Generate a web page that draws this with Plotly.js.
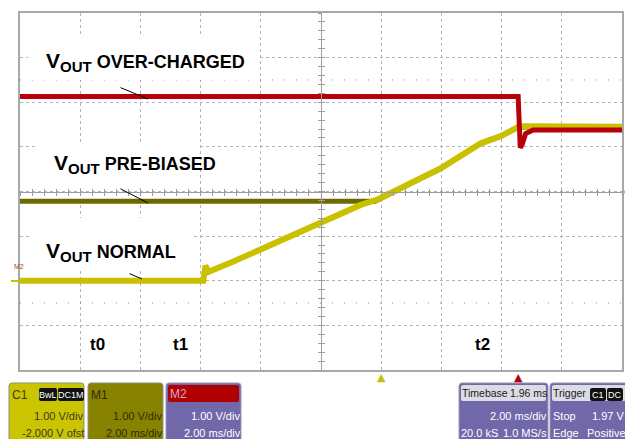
<!DOCTYPE html>
<html><head><meta charset="utf-8">
<script src="https://cdn.plot.ly/plotly-3.0.1.min.js"></script>
<style>html,body{margin:0;padding:0;background:#fff;overflow:hidden}#chart{width:625px;height:439px}</style>
</head><body><div id="chart"></div>
<script>
// ---- data read from the scope capture: time in ms (2 ms/div), voltage in V (1 V/div, -2 V offset) ----
const normalT  = [0, 6.09, 6.16, 6.26, 7.09, 7.99, 9.32, 9.98, 11.32, 11.88, 13.98, 15.31, 15.97, 16.54, 16.75, 20];
const normalV  = [0, 0, 0.34, 0.20, 0.43, 0.70, 1.10, 1.30, 1.70, 1.82, 2.52, 3.08, 3.24, 3.44, 3.46, 3.45];
const prebiasT = [0, 11.8, 13.98, 15.31, 15.97, 16.54, 20];
const prebiasV = [1.78, 1.78, 2.52, 3.08, 3.24, 3.44, 3.45];
const overT    = [0, 16.55, 16.62, 16.68, 16.8, 17.05, 20];
const overV    = [4.13, 4.13, 2.98, 3.05, 3.30, 3.38, 3.38];
const timeLabels = ['t0', 't1', 't2'];
const timeLabelT = [2.56, 5.32, 15.35];
const markerT = [12.0, 16.55];          // trigger / reference markers under the grid
const markerColors = ['#c9c100', '#b8000a'];

// ---- geometry helpers (pixel -> paper / data) ----
const L = 20, R = 622, T = 13, B = 370, W = R - L, H = B - T;
const P = px => (px - L) / W;
const Q = py => (B - py) / H;
const tx = px => P(px) * 20;
const vy = py => -2 + Q(py) * 8;

const C_YEL = '#c9c100', C_OLV = '#6e6a00', C_RED = '#b8000a';
const GRID = '#b4b4b4';

const traces = [
  {x: prebiasT, y: prebiasV, mode: 'lines', line: {color: C_OLV, width: 5}},
  {x: normalT, y: normalV, mode: 'lines', line: {color: C_YEL, width: 6}},
  {x: overT, y: overV, mode: 'lines', line: {color: C_RED, width: 5}},
  {x: [], y: [], xaxis: 'x2', yaxis: 'y'},
  {x: [], y: [], xaxis: 'x3', yaxis: 'y'},
  {x: [], y: [], xaxis: 'x', yaxis: 'y2'},
  {x: [], y: [], xaxis: 'x', yaxis: 'y3'}
];

const shapes = [];
// sparse dot rows
[4.5, -0.5].forEach(v => shapes.push({type: 'line', xref: 'x', yref: 'y', x0: 0, x1: 20, y0: v, y1: v,
  line: {color: '#8c8c8c', width: 1, dash: '1px,11px'}, layer: 'between'}));
// white label boxes (hide the grid behind the labels)
[[28, 36, 257, 80], [37, 144, 200, 188], [30, 218, 193, 270]].forEach(b => shapes.push({
  type: 'rect', xref: 'x', yref: 'y', x0: tx(b[0]), x1: tx(b[2]), y0: vy(b[1]), y1: vy(b[3]),
  fillcolor: '#ffffff', line: {width: 0}, layer: 'between'}));

function rpath(x0, y0, x1, y1, r) {
  const f = (x, y) => P(x).toFixed(5) + ',' + Q(y).toFixed(5);
  return 'M' + f(x0 + r, y0) + ' L' + f(x1 - r, y0) + ' Q' + f(x1, y0) + ' ' + f(x1, y0 + r) +
    ' L' + f(x1, y1) + ' L' + f(x0, y1) + ' L' + f(x0, y0 + r) + ' Q' + f(x0, y0) + ' ' + f(x0 + r, y0) + ' Z';
}
function rbox(x0, y0, x1, y1, r, fill, lc) {
  shapes.push({type: 'path', xref: 'paper', yref: 'paper', path: rpath(x0, y0, x1, y1, r),
    fillcolor: fill, line: {color: lc || fill, width: 1}});
}
function rboxFull(x0, y0, x1, y1, r, fill) {
  const f = (x, y) => P(x).toFixed(5) + ',' + Q(y).toFixed(5);
  const p = 'M' + f(x0 + r, y0) + ' L' + f(x1 - r, y0) + ' Q' + f(x1, y0) + ' ' + f(x1, y0 + r) +
    ' L' + f(x1, y1 - r) + ' Q' + f(x1, y1) + ' ' + f(x1 - r, y1) + ' L' + f(x0 + r, y1) + ' Q' + f(x0, y1) + ' ' + f(x0, y1 - r) +
    ' L' + f(x0, y0 + r) + ' Q' + f(x0, y0) + ' ' + f(x0 + r, y0) + ' Z';
  shapes.push({type: 'path', xref: 'paper', yref: 'paper', path: p, fillcolor: fill, line: {width: 0}});
}
const PURPLE = '#7168aa';
rbox(9, 383, 84, 445, 3, '#cbc400', '#8e8e80');
rbox(88, 383, 163, 445, 3, '#878300', '#8e8e80');
rbox(166, 383, 241, 445, 3, PURPLE, '#9a98b8');
rboxFull(168, 385, 239, 402, 2, '#b00000');
rbox(459, 383, 548, 445, 3, PURPLE, '#9a98b8');
rboxFull(461, 385, 546, 401, 2, '#dcdce4');
rbox(550, 383, 628, 445, 3, PURPLE, '#9a98b8');
rboxFull(552, 385, 626, 401, 2, '#dcdce4');
[[39, 57], [58, 84], [590, 606], [607, 623]].forEach(b => rboxFull(b[0], 388, b[1], 401, 2, '#111111'));
shapes.push({type: 'line', xref: 'paper', yref: 'paper', x0: P(11), x1: P(20), y0: Q(281), y1: Q(281),
  line: {color: C_YEL, width: 2}});

const annotations = [];
const LBL_FONT = {family: 'Liberation Sans, Arial, sans-serif', size: 18, color: '#000'};
function vout(txt) {
  return '<b><span style="font-size:21px">V</span><sub><span style="font-size:15px">OUT</span></sub> ' + txt + '</b>';
}
[[44, 62, 'OVER-CHARGED'], [52, 164, 'PRE-BIASED'], [44, 252, 'NORMAL']].forEach(a => annotations.push({
  xref: 'x', yref: 'y', x: tx(a[0]), y: vy(a[1]), text: vout(a[2]), showarrow: false,
  xanchor: 'left', yanchor: 'middle', font: LBL_FONT}));
[[148, 99, -29, -12], [148, 203, -29, -15], [142, 279, -14, -6]].forEach(a => annotations.push({
  xref: 'x', yref: 'y', x: tx(a[0]), y: vy(a[1]), ax: a[2], ay: a[3], text: ' ', showarrow: true,
  arrowhead: 0, arrowwidth: 1, arrowcolor: '#000', standoff: 0, startstandoff: 0, font: {size: 1}}));
timeLabels.forEach((s, i) => annotations.push({xref: 'x', yref: 'y', x: timeLabelT[i], y: vy(344),
  text: '<b>' + s + '</b>', showarrow: false, font: {family: 'Liberation Sans, Arial, sans-serif', size: 17, color: '#000'}}));
markerT.forEach((t, i) => annotations.push({xref: 'x', yref: 'paper', x: t, y: Q(369), yanchor: 'top',
  text: '▲', showarrow: false, font: {family: 'DejaVu Sans, sans-serif', size: 11, color: markerColors[i]}}));
annotations.push({xref: 'paper', yref: 'y', x: 1, y: 2, xanchor: 'left', xshift: -2, text: '◀', showarrow: false,
  font: {family: 'DejaVu Sans, sans-serif', size: 8, color: C_YEL}});
annotations.push({xref: 'paper', yref: 'paper', x: P(12), y: Q(272), text: 'M2', showarrow: false,
  font: {family: 'Liberation Sans, sans-serif', size: 7, color: '#b04010'}});

const PF = 'Liberation Sans, Arial, sans-serif';
function ptxt(px, py, s, anchor, color, size) {
  annotations.push({xref: 'paper', yref: 'paper', x: P(px), y: Q(py), text: s, showarrow: false,
    xanchor: anchor, yanchor: 'middle', borderpad: 0, font: {family: PF, size: size || 11, color: color}});
}
const DK = '#3a3a28', WH = '#ffffff';
ptxt(11, 395, 'C1', 'left', DK, 12);
ptxt(48, 395, 'BwL', 'center', WH, 9);
ptxt(71, 395, 'DC1M', 'center', WH, 9);
ptxt(84, 416, '1.00 V/div', 'right', DK);
ptxt(85, 433, '-2.000 V ofst', 'right', DK);
ptxt(90, 395, 'M1', 'left', '#2e2c00', 12);
ptxt(163, 416, '1.00 V/div', 'right', '#2e2c00');
ptxt(164, 433, '2.00 ms/div', 'right', '#2e2c00');
ptxt(169, 394, 'M2', 'left', '#d8a8d0', 12);
ptxt(241, 416, '1.00 V/div', 'right', WH);
ptxt(242, 433, '2.00 ms/div', 'right', WH);
ptxt(461, 393, 'Timebase', 'left', '#1a1a1a', 10.5);
ptxt(548, 393, '1.96 ms', 'right', '#1a1a1a', 10.5);
ptxt(548, 416, '2.00 ms/div', 'right', WH);
ptxt(460, 433, '20.0 kS', 'left', WH);
ptxt(548, 433, '1.0 MS/s', 'right', WH);
ptxt(552, 393, 'Trigger', 'left', '#1a1a1a', 10.5);
ptxt(598, 395, 'C1', 'center', WH, 9);
ptxt(615, 395, 'DC', 'center', WH, 9);
ptxt(552, 416, 'Stop', 'left', WH);
ptxt(625, 416, '1.97 V', 'right', WH);
ptxt(552, 433, 'Edge', 'left', WH);
ptxt(627, 433, 'Positive', 'right', WH);

const baseAx = {showgrid: false, zeroline: false, showticklabels: false, fixedrange: true};
const layout = {
  width: 625, height: 439, margin: {l: L, r: 625 - R, t: T, b: 439 - B},
  paper_bgcolor: '#fff', plot_bgcolor: '#fff', showlegend: false,
  xaxis: Object.assign({}, baseAx, {range: [0, 20], tick0: 0, dtick: 2, showgrid: true, griddash: 'dot',
    gridcolor: GRID, gridwidth: 1, showline: true, mirror: true, linecolor: '#a8a8a8', linewidth: 2, ticks: ''}),
  yaxis: Object.assign({}, baseAx, {range: [-2, 6], tick0: 0, dtick: 1, showgrid: true, griddash: 'dot',
    gridcolor: GRID, gridwidth: 1, showline: true, mirror: true, linecolor: '#a8a8a8', linewidth: 2, ticks: ''}),
  xaxis2: Object.assign({}, baseAx, {overlaying: 'x', anchor: 'free', position: 0.5, range: [0, 20],
    showline: true, linecolor: '#9c9c9c', linewidth: 1, ticks: 'outside', ticklen: 3, tickcolor: '#9c9c9c', tick0: 0, dtick: 0.4}),
  xaxis3: Object.assign({}, baseAx, {overlaying: 'x', anchor: 'free', position: 0.5, range: [0, 20],
    showline: false, ticks: 'inside', ticklen: 3, tickcolor: '#9c9c9c', tick0: 0, dtick: 0.4}),
  yaxis2: Object.assign({}, baseAx, {overlaying: 'y', anchor: 'free', position: 0.5, range: [-2, 6],
    showline: true, linecolor: '#9c9c9c', linewidth: 1, ticks: 'outside', ticklen: 3, tickcolor: '#9c9c9c', tick0: 0, dtick: 0.2}),
  yaxis3: Object.assign({}, baseAx, {overlaying: 'y', anchor: 'free', position: 0.5, range: [-2, 6],
    showline: false, ticks: 'inside', ticklen: 3, tickcolor: '#9c9c9c', tick0: 0, dtick: 0.2}),
  shapes: shapes, annotations: annotations
};
Plotly.newPlot('chart', traces, layout, {staticPlot: true, displayModeBar: false});
</script></body></html>
